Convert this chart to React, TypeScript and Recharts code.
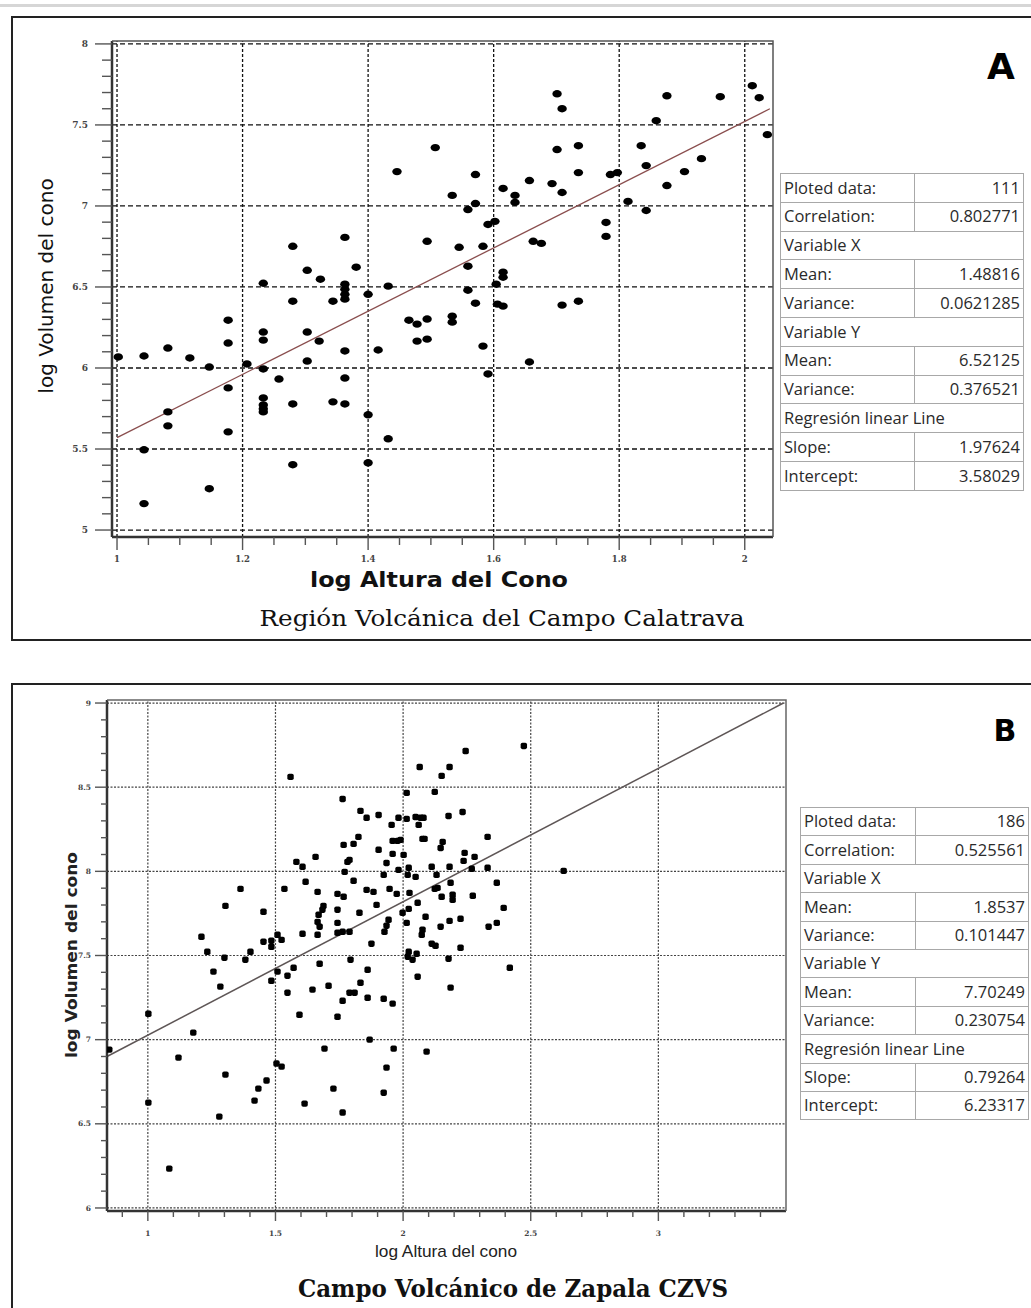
import React from 'react';
import { ScatterChart, Scatter, XAxis, YAxis, ReferenceLine } from 'recharts';

// A: Región Volcánica del Campo Calatrava  [log altura, log volumen]
const calatravaPoints: [number, number][] = [
  [1.446, 7.212], [1.363, 6.806], [1.280, 6.751], [1.303, 6.603], [1.324, 6.548], [1.381, 6.622], [1.363, 6.517], [1.363, 6.486], [1.233, 6.523], [1.432, 6.505],
  [1.280, 6.412], [1.344, 6.412], [1.363, 6.425], [1.400, 6.455], [1.177, 6.295], [1.701, 7.692], [1.709, 7.600], [1.507, 7.360], [1.701, 7.348], [1.735, 7.372],
  [1.876, 7.680], [1.961, 7.674], [2.012, 7.742], [2.023, 7.668], [2.036, 7.440], [1.859, 7.526], [1.835, 7.372], [1.843, 7.249], [1.904, 7.212], [1.931, 7.292],
  [1.876, 7.126], [1.571, 7.194], [1.735, 7.206], [1.786, 7.194], [1.797, 7.206], [1.657, 7.157], [1.693, 7.138], [1.709, 7.083], [1.615, 7.108], [1.634, 7.065],
  [1.634, 7.022], [1.534, 7.065], [1.571, 7.015], [1.559, 6.978], [1.814, 7.028], [1.843, 6.972], [1.602, 6.905], [1.591, 6.886], [1.779, 6.898], [1.779, 6.812],
  [1.494, 6.782], [1.545, 6.745], [1.583, 6.751], [1.663, 6.782], [1.676, 6.769], [1.559, 6.628], [1.615, 6.591], [1.615, 6.560], [1.604, 6.517], [1.559, 6.480],
  [1.571, 6.400], [1.606, 6.394], [1.615, 6.382], [1.709, 6.388], [1.735, 6.412], [1.465, 6.295], [1.478, 6.271], [1.494, 6.302], [1.534, 6.320], [1.534, 6.283],
  [1.177, 6.154], [1.233, 6.222], [1.233, 6.172], [1.303, 6.222], [1.322, 6.166], [1.363, 6.105], [1.416, 6.111], [1.002, 6.068], [1.043, 6.074], [1.081, 6.123],
  [1.116, 6.062], [1.147, 6.006], [1.207, 6.025], [1.233, 5.994], [1.303, 6.043], [1.258, 5.932], [1.363, 5.938], [1.177, 5.877], [1.233, 5.815], [1.233, 5.748],
  [1.233, 5.729], [1.280, 5.778], [1.344, 5.791], [1.363, 5.778], [1.081, 5.729], [1.081, 5.643], [1.400, 5.711], [1.177, 5.606], [1.432, 5.563], [1.043, 5.495],
  [1.280, 5.403], [1.400, 5.415], [1.147, 5.255], [1.043, 5.163], [1.478, 6.166], [1.494, 6.178], [1.583, 6.135], [1.657, 6.037], [1.591, 5.963], [1.363, 6.455],
  [1.233, 5.772],
];
const calatravaLine = [{ x: 1.0, y: 5.57 }, { x: 2.04, y: 7.6 }];
const calatravaXTicks = [1, 1.2, 1.4, 1.6, 1.8, 2];
const calatravaXLabels = ['1', '1.2', '1.4', '1.6', '1.8', '2'];
const calatravaYTicks = [5, 5.5, 6, 6.5, 7, 7.5, 8];
const calatravaYLabels = ['5', '5.5', '6', '6.5', '7', '7.5', '8'];
const calatravaStats = [
  ['Ploted data:', '111'], ['Correlation:', '0.802771'], ['Variable X'], ['Mean:', '1.48816'], ['Variance:', '0.0621285'],
  ['Variable Y'], ['Mean:', '6.52125'], ['Variance:', '0.376521'], ['Regresión linear Line'], ['Slope:', '1.97624'], ['Intercept:', '3.58029'],
];

// B: Campo Volcánico de Zapala CZVS  [log altura, log volumen]
const zapalaPoints: [number, number][] = [
  [1.559, 8.561], [1.763, 8.430], [1.833, 8.359], [1.767, 8.157], [1.806, 8.163], [1.825, 8.205], [1.657, 8.086], [1.582, 8.056], [1.606, 8.027], [1.782, 8.056],
  [1.790, 8.068], [1.771, 7.997], [1.363, 7.896], [1.535, 7.896], [1.618, 7.938], [1.665, 7.878], [1.743, 7.866], [1.767, 7.849], [1.806, 7.944], [1.304, 7.795],
  [1.453, 7.760], [1.688, 7.795], [1.684, 7.772], [1.669, 7.742], [1.665, 7.700], [1.673, 7.671], [1.665, 7.623], [1.743, 7.772], [1.743, 7.694], [1.829, 7.754],
  [1.210, 7.611], [1.233, 7.522], [1.300, 7.487], [1.382, 7.475], [1.402, 7.522], [1.453, 7.582], [1.484, 7.588], [1.484, 7.552], [1.508, 7.623], [1.524, 7.593],
  [1.606, 7.629], [1.743, 7.635], [1.763, 7.641], [1.790, 7.641], [1.794, 7.475], [1.673, 7.451], [1.257, 7.404], [1.284, 7.315], [1.484, 7.350], [1.508, 7.404],
  [1.547, 7.380], [1.571, 7.427], [1.547, 7.279], [1.645, 7.297], [1.708, 7.320], [1.763, 7.231], [1.790, 7.279], [1.810, 7.279], [1.833, 7.338], [2.245, 8.715],
  [2.473, 8.745], [2.065, 8.620], [2.182, 8.620], [2.151, 8.567], [2.014, 8.466], [2.124, 8.472], [1.857, 8.318], [1.904, 8.335], [1.955, 8.276], [1.982, 8.318],
  [2.014, 8.312], [2.049, 8.323], [2.069, 8.318], [2.080, 8.318], [2.061, 8.276], [2.178, 8.329], [2.233, 8.353], [1.959, 8.181], [1.978, 8.181], [1.990, 8.187],
  [2.076, 8.193], [2.084, 8.193], [2.155, 8.175], [2.147, 8.139], [2.331, 8.205], [1.904, 8.128], [1.959, 8.104], [2.002, 8.098], [1.935, 8.050], [2.241, 8.110],
  [2.280, 8.086], [2.237, 8.062], [1.982, 8.009], [2.022, 8.021], [1.924, 7.979], [2.018, 7.979], [2.049, 7.967], [2.112, 8.027], [2.131, 7.979], [2.182, 8.027],
  [2.269, 8.015], [2.331, 8.021], [1.857, 7.890], [1.884, 7.878], [1.947, 7.896], [1.975, 7.866], [2.025, 7.872], [2.124, 7.896], [2.135, 7.902], [2.186, 7.932],
  [2.151, 7.849], [2.194, 7.861], [2.194, 7.831], [2.273, 7.855], [2.367, 7.932], [1.896, 7.801], [2.057, 7.813], [1.998, 7.754], [2.022, 7.777], [2.088, 7.730],
  [1.943, 7.712], [1.935, 7.677], [1.927, 7.641], [2.014, 7.694], [2.182, 7.706], [2.225, 7.718], [2.147, 7.671], [2.076, 7.653], [2.073, 7.623], [2.335, 7.671],
  [2.367, 7.694], [2.394, 7.783], [1.876, 7.570], [2.112, 7.570], [2.127, 7.558], [2.225, 7.546], [2.022, 7.522], [2.018, 7.493], [2.037, 7.475], [2.053, 7.510],
  [2.178, 7.481], [2.418, 7.427], [1.861, 7.415], [2.057, 7.374], [2.186, 7.309], [1.861, 7.249], [1.924, 7.243], [1.959, 7.214], [1.002, 7.154], [1.178, 7.042],
  [0.849, 6.941], [1.120, 6.893], [1.304, 6.792], [1.002, 6.626], [1.280, 6.543], [1.084, 6.234], [1.594, 7.148], [1.692, 6.947], [1.504, 6.858], [1.524, 6.840],
  [1.465, 6.757], [1.433, 6.709], [1.418, 6.638], [1.614, 6.620], [1.743, 7.136], [1.869, 7.000], [1.963, 6.947], [2.092, 6.929], [1.935, 6.834], [1.727, 6.709],
  [1.924, 6.685], [1.763, 6.567], [2.629, 8.003],
];
const zapalaLine = [{ x: 0.84, y: 6.9 }, { x: 3.49, y: 9.0 }];
const zapalaXTicks = [1, 1.5, 2, 2.5, 3];
const zapalaXLabels = ['1', '1.5', '2', '2.5', '3'];
const zapalaYTicks = [6, 6.5, 7, 7.5, 8, 8.5, 9];
const zapalaYLabels = ['6', '6.5', '7', '7.5', '8', '8.5', '9'];
const zapalaStats = [
  ['Ploted data:', '186'], ['Correlation:', '0.525561'], ['Variable X'], ['Mean:', '1.8537'], ['Variance:', '0.101447'],
  ['Variable Y'], ['Mean:', '7.70249'], ['Variance:', '0.230754'], ['Regresión linear Line'], ['Slope:', '0.79264'], ['Intercept:', '6.23317'],
];

// minor tick positions
const steps = (from: number, to: number, step: number) => {
  const out: number[] = [];
  for (let v = from; v <= to + 1e-9; v += step) out.push(Math.round(v * 1000) / 1000);
  return out;
};

type TickOpts = { majors: number[]; labels: string[]; side: 'left' | 'bottom'; major: number; minor: number; gap: number; size: number };

const axisTick = (o: TickOpts) => (props: any) => {
  const { x, y, payload } = props;
  const i = o.majors.findIndex((m) => Math.abs(m - payload.value) < 1e-6);
  const len = i >= 0 ? o.major : o.minor;
  const label = i >= 0 ? o.labels[i] : null;
  if (o.side === 'left') {
    return (
      <g>
        <line x1={x - len} x2={x} y1={y} y2={y} stroke="#555" strokeWidth={1.4} />
        {label && (
          <text x={x - o.gap} y={y + o.size * 0.35} textAnchor="end" fontSize={o.size} fontWeight="bold" fill="#444" fontFamily="DejaVu Serif">
            {label}
          </text>
        )}
      </g>
    );
  }
  return (
    <g>
      <line x1={x} x2={x} y1={y} y2={y + len} stroke="#555" strokeWidth={1.4} />
      {label && (
        <text x={x} y={y + o.gap} textAnchor="middle" fontSize={o.size} fontWeight="bold" fill="#444" fontFamily="DejaVu Serif">
          {label}
        </text>
      )}
    </g>
  );
};

const dotA = (p: any) => <ellipse cx={p.cx} cy={p.cy} rx={4.7} ry={3.7} fill="#000" />;
const dotB = (p: any) => <rect x={p.cx - 3.2} y={p.cy - 3.2} width={6.4} height={6.4} rx={1.8} fill="#000" />;

const StatsTable = ({ rows, left, top, w1, w2, rowH }: { rows: string[][]; left: number; top: number; w1: number; w2: number; rowH: number }) => {
  const cell: React.CSSProperties = { border: '1px solid #a8a8a8', padding: '0 3px', height: rowH - 1, lineHeight: 1, whiteSpace: 'nowrap', overflow: 'hidden' };
  return (
    <table style={{ position: 'absolute', left, top, borderCollapse: 'collapse', fontFamily: '"Open Sans"', fontSize: 16.5, color: '#2a2a2a', tableLayout: 'fixed', width: w1 + w2 }}>
      <colgroup>
        <col style={{ width: w1 }} />
        <col style={{ width: w2 }} />
      </colgroup>
      <tbody>
        {rows.map((r, i) => (
          <tr key={i}>
            {r.length === 1 ? (
              <td colSpan={2} style={cell}>{r[0]}</td>
            ) : (
              <>
                <td style={cell}>{r[0]}</td>
                <td style={{ ...cell, textAlign: 'right' }}>{r[1]}</td>
              </>
            )}
          </tr>
        ))}
      </tbody>
    </table>
  );
};

export default function App() {
  const dataA = calatravaPoints.map(([x, y]) => ({ x, y }));
  const dataB = zapalaPoints.map(([x, y]) => ({ x, y }));

  return (
    <div style={{ position: 'absolute', left: 0, top: 0, width: 1031, height: 1308, background: '#fff', overflow: 'hidden' }}>
      <div style={{ position: 'absolute', left: 0, top: 4, width: 1031, height: 3, background: '#d6d6d6' }} />
      <div style={{ position: 'absolute', left: 11, top: 16, width: 1040, height: 621, border: '2px solid #222' }} />
      <div style={{ position: 'absolute', left: 11, top: 683, width: 1040, height: 660, border: '2px solid #222' }} />

      {/* panel A */}
      <div style={{ position: 'absolute', left: 0, top: 0 }}>
        <ScatterChart width={800} height={600} margin={{ top: 41, right: 27, bottom: 0, left: 0 }}>
          <XAxis
            type="number" dataKey="x" domain={[0.992, 2.045]} allowDataOverflow height={63}
            ticks={steps(1, 2, 0.05)} interval={0} tickSize={0} tickMargin={0} tickLine={false}
            axisLine={{ stroke: '#333', strokeWidth: 2.5 }}
            tick={axisTick({ majors: calatravaXTicks, labels: calatravaXLabels, side: 'bottom', major: 13, minor: 8, gap: 25, size: 8.5 })}
          />
          <YAxis
            type="number" dataKey="y" domain={[4.957, 8.018]} allowDataOverflow width={112}
            ticks={steps(5, 8, 0.1)} interval={0} tickSize={0} tickMargin={0} tickLine={false}
            axisLine={{ stroke: '#333', strokeWidth: 2.5 }}
            tick={axisTick({ majors: calatravaYTicks, labels: calatravaYLabels, side: 'left', major: 17, minor: 10, gap: 24, size: 9 })}
          />
          {calatravaYTicks.map((v) => (
            <ReferenceLine key={'ay' + v} y={v} stroke="#111" strokeWidth={1.3} strokeDasharray="5 3" />
          ))}
          {calatravaXTicks.map((v) => (
            <ReferenceLine key={'ax' + v} x={v} stroke="#111" strokeWidth={1.3} strokeDasharray="3 2" />
          ))}
          <ReferenceLine segment={calatravaLine} stroke="#8a4e4e" strokeWidth={1.3} />
          <Scatter data={dataA} shape={dotA} isAnimationActive={false} />
        </ScatterChart>
      </div>

      {/* panel B */}
      <div style={{ position: 'absolute', left: 0, top: 660 }}>
        <ScatterChart width={820} height={600} margin={{ top: 40, right: 34, bottom: 0, left: 0 }}>
          <XAxis
            type="number" dataKey="x" domain={[0.84, 3.5]} allowDataOverflow height={49}
            ticks={steps(0.9, 3.4, 0.1)} interval={0} tickSize={0} tickMargin={0} tickLine={false}
            axisLine={{ stroke: '#333', strokeWidth: 2.5 }}
            tick={axisTick({ majors: zapalaXTicks, labels: zapalaXLabels, side: 'bottom', major: 10, minor: 6, gap: 25, size: 7.5 })}
          />
          <YAxis
            type="number" dataKey="y" domain={[5.982, 9.018]} allowDataOverflow width={107}
            ticks={steps(6, 9, 0.1)} interval={0} tickSize={0} tickMargin={0} tickLine={false}
            axisLine={{ stroke: '#333', strokeWidth: 2.5 }}
            tick={axisTick({ majors: zapalaYTicks, labels: zapalaYLabels, side: 'left', major: 12, minor: 6, gap: 16, size: 7.5 })}
          />
          {zapalaYTicks.map((v) => (
            <ReferenceLine key={'by' + v} y={v} stroke="#444" strokeWidth={1.2} strokeDasharray="2 1.5" />
          ))}
          {zapalaXTicks.map((v) => (
            <ReferenceLine key={'bx' + v} x={v} stroke="#444" strokeWidth={1.2} strokeDasharray="2 1.5" />
          ))}
          <ReferenceLine segment={zapalaLine} stroke="#5e5656" strokeWidth={1.5} />
          <Scatter data={dataB} shape={dotB} isAnimationActive={false} />
        </ScatterChart>
      </div>

      <svg width={1031} height={1308} style={{ position: 'absolute', left: 0, top: 0, pointerEvents: 'none' }}>
        <polyline points="112,41 773,41 773,537" fill="none" stroke="#555" strokeWidth={1.5} />
        <polyline points="107,700 786,700 786,1211" fill="none" stroke="#666" strokeWidth={1.5} />

        <text transform="translate(53,286) rotate(-90)" textAnchor="middle" fontFamily="DejaVu Sans" fontSize={20} fill="#111">log Volumen del cono</text>
        <text x={439} y={587} textAnchor="middle" fontFamily="DejaVu Sans" fontWeight="bold" fontSize={22} textLength={258} lengthAdjust="spacingAndGlyphs" fill="#111">log Altura del Cono</text>
        <text x={502} y={626} textAnchor="middle" fontFamily="DejaVu Serif" fontSize={22} textLength={485} lengthAdjust="spacingAndGlyphs" fill="#111">Región Volcánica del Campo Calatrava</text>
        <text x={1001} y={79} textAnchor="middle" fontFamily="DejaVu Sans" fontWeight="bold" fontSize={36} fill="#000">A</text>

        <text transform="translate(77,955) rotate(-90)" textAnchor="middle" fontFamily="DejaVu Sans" fontWeight="bold" fontSize={16} textLength={206} lengthAdjust="spacingAndGlyphs" fill="#222">log Volumen del cono</text>
        <text x={446} y={1257} textAnchor="middle" fontFamily="Liberation Sans" fontSize={17} textLength={142} lengthAdjust="spacingAndGlyphs" fill="#222">log Altura del cono</text>
        <text x={513} y={1297} textAnchor="middle" fontFamily="DejaVu Serif" fontWeight="bold" fontSize={24} textLength={430} lengthAdjust="spacingAndGlyphs" fill="#111">Campo Volcánico de Zapala CZVS</text>
        <text x={1005} y={741} textAnchor="middle" fontFamily="DejaVu Sans" fontWeight="bold" fontSize={30} fill="#000">B</text>
      </svg>

      <StatsTable rows={calatravaStats} left={780} top={173} w1={134} w2={109} rowH={28.8} />
      <StatsTable rows={zapalaStats} left={800} top={807} w1={115} w2={113} rowH={28.4} />
    </div>
  );
}
